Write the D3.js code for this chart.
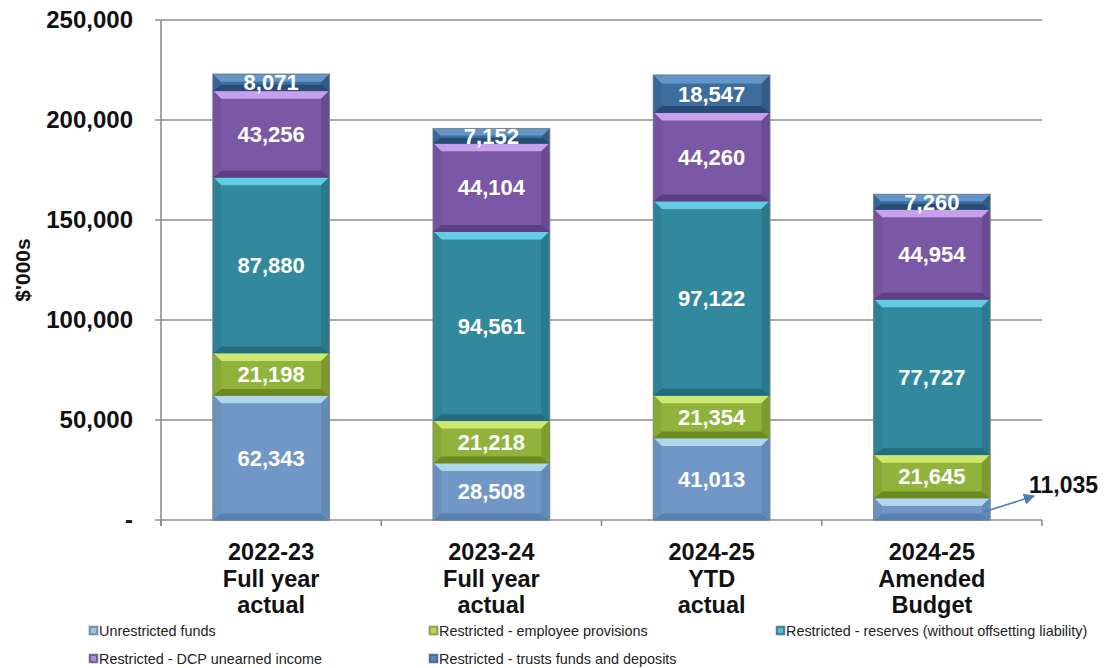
<!DOCTYPE html>
<html>
<head>
<meta charset="utf-8">
<script src="https://cdn.jsdelivr.net/npm/d3@7"></script>
<style>
  html, body { margin: 0; padding: 0; background: #fff; }
  svg { display: block; font-family: "Liberation Sans", Arial, sans-serif; }
</style>
</head>
<body>
<svg id="chart" width="1107" height="668"></svg>
<script>
// Cash position by category ($'000s)
const categories = [
  ["2022-23", "Full year", "actual"],
  ["2023-24", "Full year", "actual"],
  ["2024-25", "YTD", "actual"],
  ["2024-25", "Amended", "Budget"]
];
const seriesNames = [
  "Unrestricted funds",
  "Restricted - employee provisions",
  "Restricted - reserves (without offsetting liability)",
  "Restricted - DCP unearned income",
  "Restricted - trusts funds and deposits"
];
const unrestricted = [62343, 28508, 41013, 11035];
const employeeProvisions = [21198, 21218, 21354, 21645];
const reserves = [87880, 94561, 97122, 77727];
const dcpUnearned = [43256, 44104, 44260, 44954];
const trusts = [8071, 7152, 18547, 7260];
const yTicks = [0, 50000, 100000, 150000, 200000, 250000];

const seriesValues = [unrestricted, employeeProvisions, reserves, dcpUnearned, trusts];
// main / top bevel / bottom bevel / side tones
const palette = [
  { main: "#7097c6", top: "#b0d6ee", bottom: "#5b80ad", side: "#6a8fbd" },
  { main: "#91b33c", top: "#cde872", bottom: "#6c8a22", side: "#86a634" },
  { main: "#32899e", top: "#62cde2", bottom: "#246c7e", side: "#2e8196" },
  { main: "#7b58a6", top: "#c7a0ec", bottom: "#5c3f83", side: "#74529d" },
  { main: "#3d6d9f", top: "#6495c8", bottom: "#294c74", side: "#386596" }
];

const svg = d3.select("#chart");
const plotLeft = 161, plotRight = 1042, plotTop = 20, plotBottom = 520;

const x = d3.scaleBand().domain(d3.range(categories.length))
  .range([plotLeft, plotRight]).paddingInner(0.474).paddingOuter(0.237);
const y = d3.scaleLinear().domain([0, 250000]).range([plotBottom, plotTop]);

// gridlines
svg.append("g").selectAll("line").data(yTicks).join("line")
  .attr("x1", plotLeft - 6).attr("x2", plotRight)
  .attr("y1", d => y(d)).attr("y2", d => y(d))
  .attr("stroke", "#8c8c8c").attr("stroke-width", 1.6);

// y axis line
svg.append("line").attr("x1", plotLeft).attr("x2", plotLeft)
  .attr("y1", plotTop).attr("y2", plotBottom + 6)
  .attr("stroke", "#8c8c8c").attr("stroke-width", 1.6);

// category boundary ticks
const step = x.step();
svg.append("g").selectAll("line").data(d3.range(categories.length + 1)).join("line")
  .attr("x1", i => plotLeft + i * step).attr("x2", i => plotLeft + i * step)
  .attr("y1", plotBottom).attr("y2", plotBottom + 6)
  .attr("stroke", "#8c8c8c").attr("stroke-width", 1.6);

// y tick labels
svg.append("g").selectAll("text").data(yTicks).join("text")
  .attr("x", 133).attr("y", d => y(d)).attr("dy", "0.35em")
  .attr("text-anchor", "end")
  .attr("font-size", 24).attr("font-weight", "bold").attr("fill", "#111")
  .text(d => d === 0 ? "-" : d3.format(",")(d));

// y axis title
svg.append("text")
  .attr("transform", `translate(30,270) rotate(-90)`)
  .attr("text-anchor", "middle")
  .attr("font-size", 21).attr("font-weight", "bold").attr("fill", "#111")
  .text("$'000s");

// stacked data
const stackData = categories.map((c, i) => {
  const o = { i };
  seriesValues.forEach((s, k) => o["s" + k] = s[i]);
  return o;
});
const stack = d3.stack().keys(seriesValues.map((s, k) => "s" + k));
const layers = stack(stackData);

const bars = svg.append("g");
// bar outline
stackData.forEach((d, i) => {
  const total = d3.sum(seriesValues, s => s[i]);
  bars.append("rect")
    .attr("x", x(i) - 1).attr("y", y(total) - 1)
    .attr("width", x.bandwidth() + 2).attr("height", y(0) - y(total) + 1.5)
    .attr("fill", "#8a8a8a");
});

function bevelSegment(g, x0, y0, w, h, col) {
  const b = Math.min(8, h / 2.2);
  g.append("rect").attr("x", x0).attr("y", y0).attr("width", w).attr("height", h).attr("fill", col.main);
  const poly = pts => g.append("polygon").attr("points", pts.map(p => p.join(",")).join(" "));
  poly([[x0, y0], [x0 + w, y0], [x0 + w - b, y0 + b], [x0 + b, y0 + b]]).attr("fill", col.top);
  poly([[x0, y0 + h], [x0 + w, y0 + h], [x0 + w - b, y0 + h - b * 0.8], [x0 + b, y0 + h - b * 0.8]]).attr("fill", col.bottom);
  poly([[x0, y0], [x0 + b, y0 + b], [x0 + b, y0 + h - b * 0.8], [x0, y0 + h]]).attr("fill", col.side).attr("opacity", 0.9);
  poly([[x0 + w, y0], [x0 + w - b, y0 + b], [x0 + w - b, y0 + h - b * 0.8], [x0 + w, y0 + h]]).attr("fill", col.bottom).attr("opacity", 0.55);
  g.append("line").attr("x1", x0).attr("x2", x0 + w).attr("y1", y0 + h).attr("y2", y0 + h)
    .attr("stroke", col.bottom).attr("stroke-width", 1);
}

layers.forEach((layer, k) => {
  layer.forEach((seg, i) => {
    const y0 = y(seg[1]), h = y(seg[0]) - y(seg[1]);
    bevelSegment(bars, x(i), y0, x.bandwidth(), h, palette[k]);
  });
});

// value labels inside segments (small unrestricted 2024-25 budget shown outside)
const labels = svg.append("g");
layers.forEach((layer, k) => {
  layer.forEach((seg, i) => {
    const v = seriesValues[k][i];
    if (k === 0 && i === 3) return;
    labels.append("text")
      .attr("x", x(i) + x.bandwidth() / 2)
      .attr("y", (y(seg[0]) + y(seg[1])) / 2)
      .attr("dy", "0.36em")
      .attr("text-anchor", "middle")
      .attr("font-size", 22).attr("font-weight", "bold").attr("fill", "#fff")
      .text(d3.format(",")(v));
  });
});

// callout for the small unrestricted segment
const cseg = layers[0][3];
const cx0 = x(3) + x.bandwidth() - 6, cy0 = (y(cseg[0]) + y(cseg[1])) / 2 + 3;
svg.append("defs").append("marker")
  .attr("id", "arrow").attr("viewBox", "0 0 10 10").attr("refX", 9).attr("refY", 5)
  .attr("markerWidth", 7).attr("markerHeight", 7).attr("orient", "auto")
  .append("path").attr("d", "M0,0 L10,5 L0,10 z").attr("fill", "#4a7ebb");
svg.append("line")
  .attr("x1", cx0).attr("y1", cy0).attr("x2", 1034).attr("y2", 496)
  .attr("stroke", "#4a7ebb").attr("stroke-width", 1.6).attr("marker-end", "url(#arrow)");
svg.append("text")
  .attr("x", 1029).attr("y", 485).attr("dy", "0.35em")
  .attr("font-size", 23).attr("font-weight", "bold").attr("fill", "#111")
  .text(d3.format(",")(unrestricted[3]));

// category labels
categories.forEach((lines, i) => {
  const t = svg.append("text")
    .attr("text-anchor", "middle")
    .attr("font-size", 23.5).attr("font-weight", "bold").attr("fill", "#111");
  lines.forEach((ln, j) => {
    t.append("tspan").attr("x", x(i) + x.bandwidth() / 2).attr("y", 560 + j * 26.5).text(ln);
  });
});

// legend
const legendPos = [[89, 631], [429, 631], [776, 631], [89, 659], [429, 659]];
const legend = svg.append("g");
seriesNames.forEach((name, k) => {
  const [lx, ly] = legendPos[k];
  const col = palette[k];
  legend.append("rect").attr("x", lx).attr("y", ly - 5).attr("width", 9).attr("height", 9)
    .attr("fill", col.main).attr("stroke", "#888").attr("stroke-width", 0.6);
  legend.append("rect").attr("x", lx + 2).attr("y", ly - 3).attr("width", 5).attr("height", 5)
    .attr("fill", col.top).attr("opacity", 0.7);
  legend.append("text").attr("x", lx + 10).attr("y", ly).attr("dy", "0.35em")
    .attr("font-size", 14.4).attr("fill", "#222").text(name);
});
</script>
</body>
</html>
